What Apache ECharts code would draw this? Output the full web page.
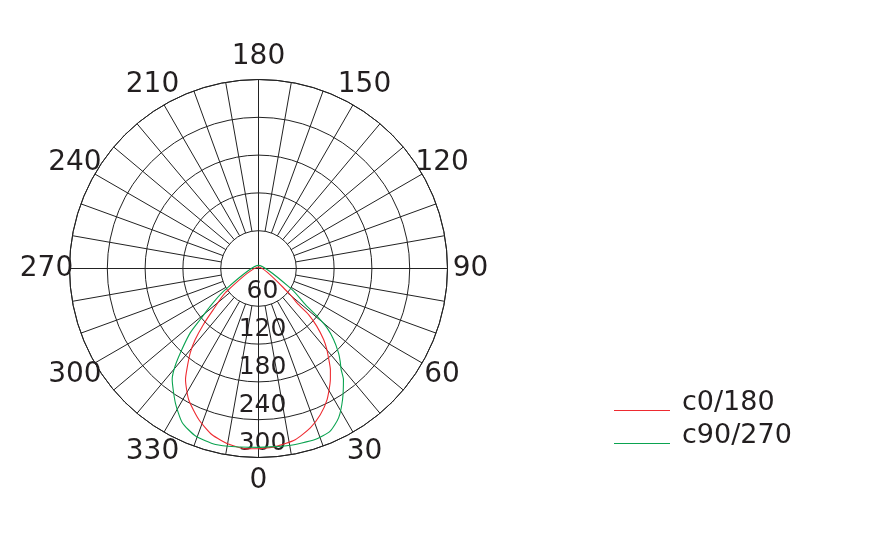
<!DOCTYPE html>
<html>
<head>
<meta charset="utf-8">
<script src="https://cdn.jsdelivr.net/npm/echarts@6/dist/echarts.min.js"></script>
<style>
html,body{margin:0;padding:0;background:#fff;}
#chart{width:872px;height:555px;}
</style>
</head>
<body>
<div id="chart"></div>
<script>
// ---- data ----
const seriesNames = ['c0/180', 'c90/270'];
const radiusTicks = [0, 60, 120, 180, 240, 300];
const angleLabels = [0, 30, 60, 90, 120, 150, 180, 210, 240, 270, 300, 330];
const gridAngleStep = 10;

// c0/180 (red): angle (deg) and intensity
const redAngles = [0, 5.4, 12.1, 18, 22.9, 27.6, 32.9, 35.4, 37.3, 40.2, 42.5, 45.3, 47.4, 48, 51, 180, 306.1, 312.3, 315.5, 318.3, 321, 324.7, 326.7, 332, 338.5, 344.4, 350.5, 355.9, 360];
const redValues = [286, 284, 278, 266, 252, 235, 210, 197, 185, 168, 153, 130, 108, 85, 61, 2.5, 65, 97, 125, 151, 172, 197, 211, 236, 258, 274, 283, 287, 286];

// c90/270 (green)
const greenAngles = [0, 9.6, 18.3, 23.8, 28.2, 32.7, 37.4, 39.3, 41.4, 43.5, 46.6, 49.1, 50.6, 52.4, 57.8, 180, 303, 308, 311.2, 313.3, 316.6, 319.5, 322.1, 328.3, 333.7, 339.4, 346.3, 352.6, 360];
const greenValues = [284, 285, 286, 282, 269, 247, 222, 207, 196, 184.5, 164, 144, 123, 94, 63, 5, 66, 97, 123, 149, 177, 204, 223, 251, 273, 284, 287.6, 285.4, 284];

const colors = ['#ee2a30', '#0aa350'];
const gridColor = '#222';
const textColor = '#231f20';
const FONT = 'DejaVu Sans';

function pairs(vals, angs) { return vals.map((v, i) => [v, angs[i]]); }

const chart = echarts.init(document.getElementById('chart'), null, {renderer: 'canvas'});
const CENTER = [258.5, 268.5];
const R = 189;
const rMax = radiusTicks[radiusTicks.length - 1];
const rStep = radiusTicks[1] - radiusTicks[0];
// angle labels sit on a ring ~212px from the centre, in axis units
const labelRing = rMax * 212 / R;

function legendFor(name, lineY) {
  return {
    data: [name], left: 614, top: lineY - 20, padding: 0, orient: 'vertical',
    icon: 'rect', itemWidth: 56, itemHeight: 1,
    formatter: n => n + '\n ',
    textStyle: {fontFamily: FONT, fontSize: 27, color: textColor, lineHeight: 16, padding: [0, 0, 0, 7]}
  };
}

chart.setOption({
  animation: false,
  backgroundColor: '#fff',
  polar: [
    {center: CENTER, radius: R},
    {center: CENTER, radius: [R * rStep / rMax, R]}
  ],
  angleAxis: [
    {
      polarIndex: 0, type: 'value', min: 0, max: 360, interval: 90,
      startAngle: 270, clockwise: false,
      axisLine: {show: true, lineStyle: {color: gridColor, width: 1}},
      axisTick: {show: false}, axisLabel: {show: false},
      splitLine: {show: true, lineStyle: {color: gridColor, width: 1}}
    },
    {
      polarIndex: 1, type: 'value', min: 0, max: 360, interval: gridAngleStep,
      startAngle: 270, clockwise: false,
      axisLine: {show: false}, axisTick: {show: false}, axisLabel: {show: false},
      splitLine: {show: true, lineStyle: {color: gridColor, width: 1}}
    }
  ],
  radiusAxis: [
    {
      polarIndex: 0, type: 'value', min: 0, max: rMax, interval: rStep,
      axisLine: {show: false}, axisTick: {show: false},
      axisLabel: {
        show: true, margin: 0, fontFamily: FONT, fontSize: 25, color: textColor,
        align: 'center', verticalAlign: 'bottom', padding: [0, 0, 2, 8],
        formatter: v => v === 0 ? '' : String(v)
      },
      splitLine: {show: true, lineStyle: {color: gridColor, width: 1}}
    },
    {
      polarIndex: 1, type: 'value', min: 0, max: rMax, show: false,
      axisLine: {show: false}, axisTick: {show: false}, axisLabel: {show: false},
      splitLine: {show: false}
    }
  ],
  legend: [legendFor(seriesNames[0], 409), legendFor(seriesNames[1], 442)],
  series: [
    {
      name: seriesNames[0], type: 'line', coordinateSystem: 'polar', polarIndex: 0,
      data: pairs(redValues, redAngles), showSymbol: false, smooth: 0.2,
      lineStyle: {color: colors[0], width: 1.1}, itemStyle: {color: colors[0]}, z: 5
    },
    {
      name: seriesNames[1], type: 'line', coordinateSystem: 'polar', polarIndex: 0,
      data: pairs(greenValues, greenAngles), showSymbol: false, smooth: 0.2,
      lineStyle: {color: colors[1], width: 1.1}, itemStyle: {color: colors[1]}, z: 5
    },
    {
      name: 'angle labels', type: 'scatter', coordinateSystem: 'polar', polarIndex: 0,
      clip: false, silent: true, symbol: 'circle', symbolSize: 1,
      itemStyle: {color: 'rgba(0,0,0,0)', opacity: 1},
      data: angleLabels.map(a => [labelRing, a]),
      label: {
        show: true, position: 'inside', align: 'center', verticalAlign: 'middle',
        fontFamily: FONT, fontSize: 28, color: textColor, opacity: 1,
        formatter: p => String(p.value[1])
      },
      z: 6
    }
  ]
});
</script>
</body>
</html>
